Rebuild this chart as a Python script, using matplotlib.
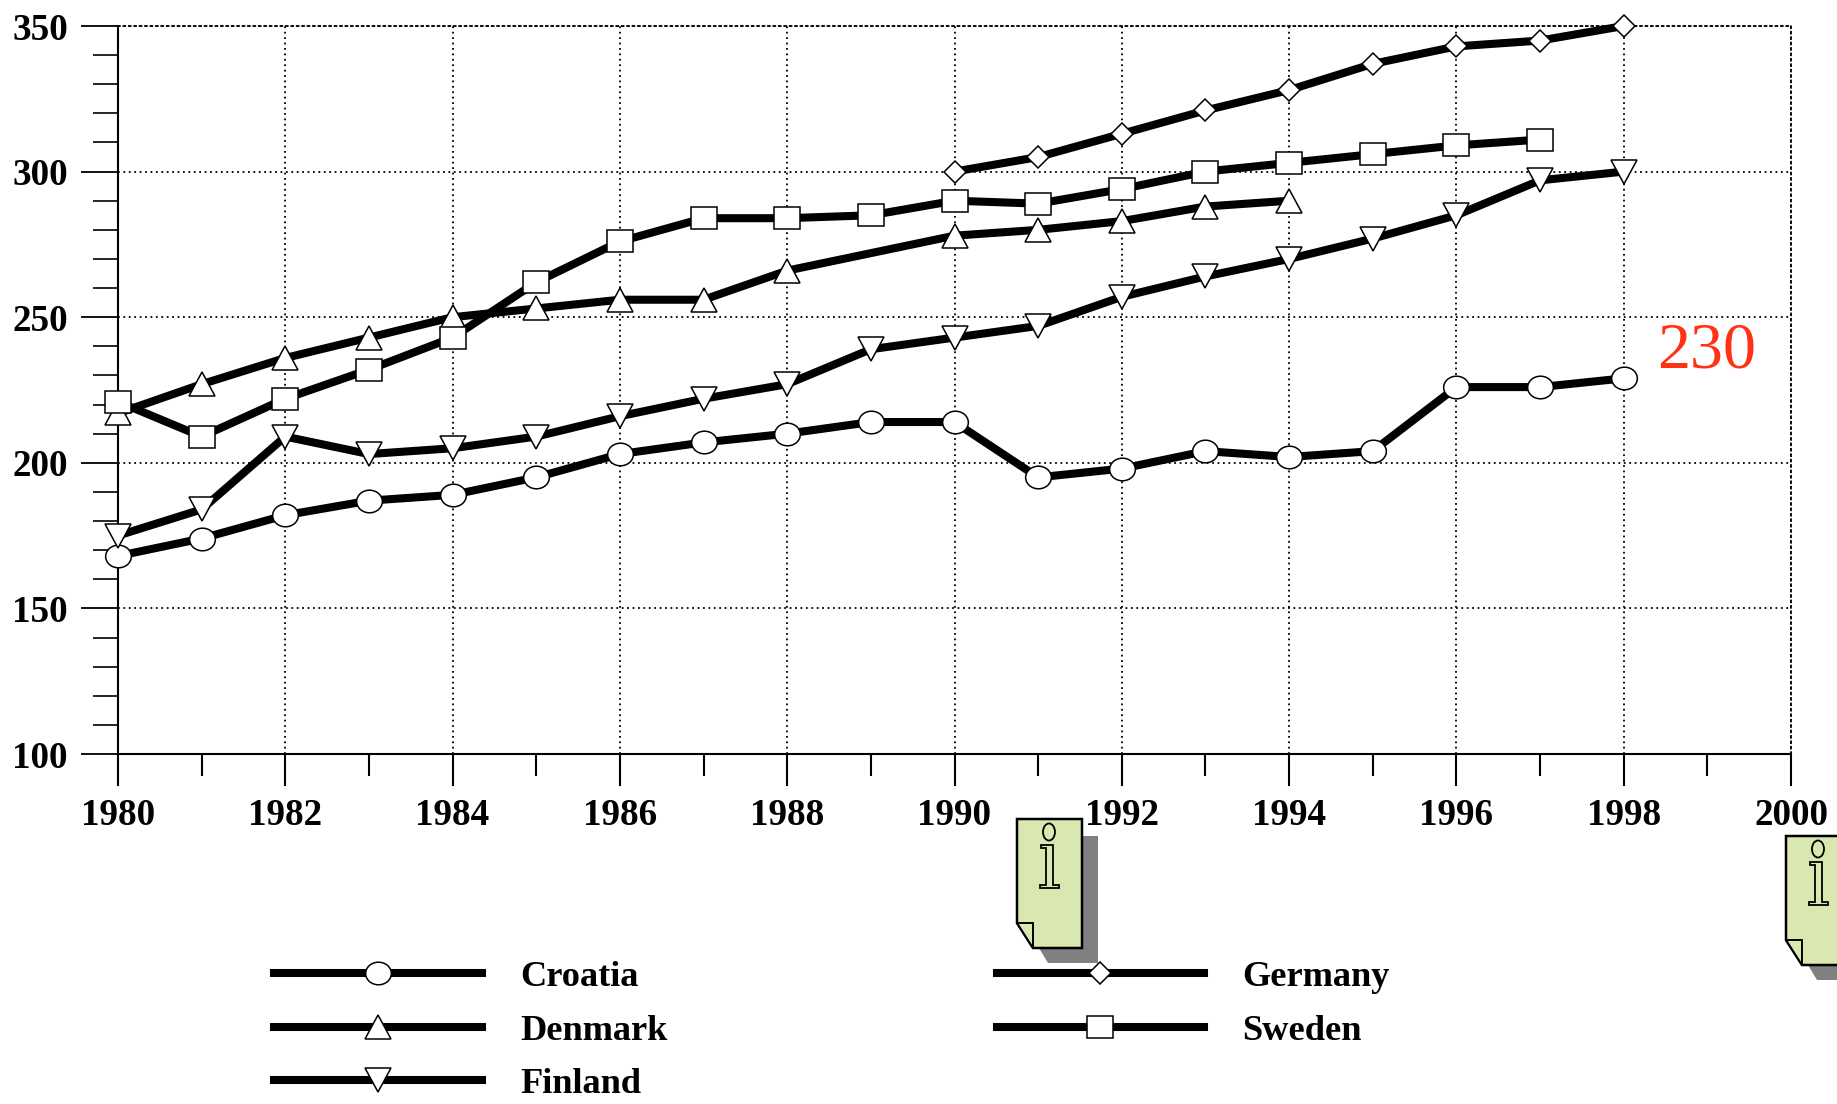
import matplotlib
matplotlib.use('Agg')
import matplotlib.pyplot as plt
from matplotlib.markers import MarkerStyle
from matplotlib.patches import Polygon, Ellipse
from matplotlib.transforms import Affine2D

W, H = 1837, 1104

years_croatia = list(range(1980, 1999))
croatia = [168, 174, 182, 187, 189, 195, 203, 207, 210, 214, 214, 195, 198, 204, 202, 204, 226, 226, 229]
# no 1989 point for Denmark in the original
years_denmark = [1980, 1981, 1982, 1983, 1984, 1985, 1986, 1987, 1988, 1990, 1991, 1992, 1993, 1994]
denmark = [217, 227, 236, 243, 250, 253, 256, 256, 266, 278, 280, 283, 288, 290]
years_finland = list(range(1980, 1999))
finland = [175, 184, 209, 203, 205, 209, 216, 222, 227, 239, 243, 247, 257, 264, 270, 277, 285, 297, 300]
years_germany = list(range(1990, 1999))
germany = [300, 305, 313, 321, 328, 337, 343, 345, 350]
years_sweden = list(range(1980, 1998))
sweden = [221, 209, 222, 232, 243, 262, 276, 284, 284, 285, 290, 289, 294, 300, 303, 306, 309, 311]

x_ticks = list(range(1980, 2001, 2))
y_ticks = [100, 150, 200, 250, 300, 350]

plt.rcParams['font.family'] = ['Liberation Serif', 'DejaVu Serif']

fig = plt.figure(figsize=(W / 100, H / 100), dpi=100)
ax = fig.add_axes([118 / W, 1 - 754 / H, (1791 - 118) / W, (754 - 26) / H])

# markers in the scan are a bit squashed
squash = Affine2D().scale(1.0, 0.88)
style = dict(color='black', lw=5.8, mfc='white', mec='black', mew=1.1, clip_on=False, zorder=3)
ax.plot(years_croatia, croatia, marker=MarkerStyle('o', transform=squash), ms=18.5, label='Croatia', **style)
ax.plot(years_denmark, denmark, marker=MarkerStyle('^', transform=squash), ms=19, label='Denmark', **style)
ax.plot(years_finland, finland, marker=MarkerStyle('v', transform=squash), ms=19, label='Finland', **style)
ax.plot(years_germany, germany, marker='D', ms=11.5, label='Germany', **style)
ax.plot(years_sweden, sweden, marker=MarkerStyle('s', transform=squash), ms=18.5, label='Sweden', **style)

ax.set_xlim(1980, 2000)
ax.set_ylim(100, 350)
ax.set_xticks(x_ticks)
ax.set_xticks(range(1981, 2000, 2), minor=True)
ax.set_yticks(y_ticks)
ax.set_yticks(range(100, 351, 10), minor=True)
ax.grid(True, which='major', color='black', ls=(0, (1, 2)), lw=1.3)
ax.set_axisbelow(True)
for side in ['top', 'right']:
    ax.spines[side].set_linestyle((0, (1, 2)))
    ax.spines[side].set_linewidth(1.3)
ax.spines['left'].set_linewidth(1.5)
ax.spines['bottom'].set_linewidth(1.5)
ax.tick_params(axis='y', which='major', length=27, width=1.3, pad=9, labelsize=26.7)
ax.tick_params(axis='y', which='minor', length=18, width=1.2)
ax.tick_params(axis='x', which='major', length=23, width=1.5, pad=9, labelsize=26.7)
ax.tick_params(axis='x', which='minor', length=16, width=1.5)
for lab in ax.get_xticklabels() + ax.get_yticklabels():
    lab.set_fontweight('bold')

ax.text(1998.4, 238, '230', color='#ff3314', fontsize=47.5, va='center', ha='left')

leg = ax.legend(ncol=2, frameon=False, loc='upper left', bbox_to_anchor=(0.0935, -0.284), numpoints=1,
                handlelength=5.7, handletextpad=1.05, columnspacing=9.05, labelspacing=0.55,
                prop=dict(size=26.2, weight='bold'), borderpad=0, borderaxespad=0)


# little note icon, offsets are pixels from its top left corner
def note_icon(x0, y0):
    to_fig = Affine2D().scale(1, -1).translate(x0, H - y0)
    green = '#d9e8b0'
    fig.add_artist(Polygon([(16, 17), (81, 17), (81, 144), (31, 144), (22, 129), (16, 129)], closed=True,
                           fc='#808080', ec='none', transform=to_fig, zorder=5))
    fig.add_artist(Polygon([(0, 0), (65, 0), (65, 129), (16, 129), (0, 104)], closed=True, fc=green, ec='black',
                           lw=1.8, transform=to_fig, zorder=6))
    fig.add_artist(Polygon([(0, 104), (16, 104), (16, 129)], closed=True, fc=green, ec='black', lw=1.4,
                           transform=to_fig, zorder=7))
    fig.add_artist(Ellipse((32, 13), 12, 17, fc=green, ec='black', lw=1.3, transform=to_fig, zorder=7))
    fig.add_artist(Polygon([(24, 26), (36, 26), (36, 66), (42, 66), (42, 69), (23, 69), (23, 66), (29, 66),
                            (29, 29), (24, 29)], closed=True, fc=green, ec='black', lw=1.3,
                           transform=to_fig, zorder=7))


note_icon(1017, 819)
note_icon(1786, 836)

fig.savefig('out.png', dpi=100)
